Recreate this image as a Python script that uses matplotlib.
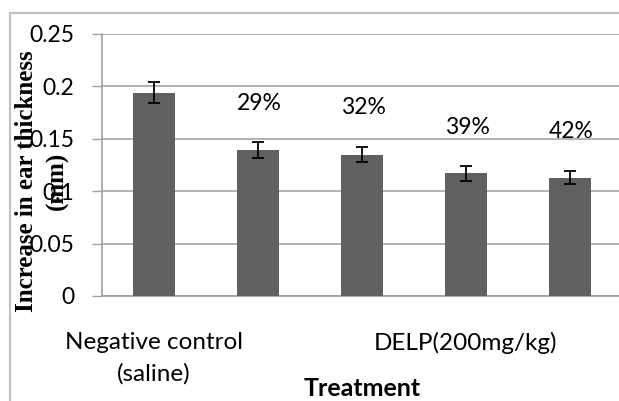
import matplotlib.pyplot as plt
from matplotlib.patches import Rectangle

# valores
grupos = ["Negative control\n(saline)", "", "", "DELP(200mg/kg)", ""]
grosor = [0.194, 0.139, 0.135, 0.117, 0.113]
error = [0.010, 0.0075, 0.0075, 0.0068, 0.0065]
inhibicion = ["", "29%", "32%", "39%", "42%"]
yticks = [0, 0.05, 0.1, 0.15, 0.2, 0.25]
ytick_labels = ["0", "0.05", "0.1", "0.15", "0.2", "0.25"]

W, H = 619, 401
fig = plt.figure(figsize=(W / 100, H / 100), dpi=100)

# marco exterior (recortado a la derecha y abajo)
fig.patches.append(Rectangle((10 / W, -0.1), 1.2, 1 - 13 / H + 0.1, transform=fig.transFigure,
                             fill=False, edgecolor="#c0c0c0", linewidth=1.6))

ax = fig.add_axes([102 / W, 1 - 296 / H, 520 / W, 262 / H])
x = list(range(len(grosor)))
ax.bar(x, grosor, width=0.4, color="#606060", zorder=3)
ax.errorbar(x, grosor, yerr=error, fmt="none", ecolor="black", elinewidth=1.3,
            capsize=4.5, capthick=1.3, zorder=4)

for i, (v, e, t) in enumerate(zip(grosor, error, inhibicion)):
    if t:
        ax.annotate(t, (i, v + e), xytext=(1, 28), textcoords="offset points",
                    ha="center", va="center", fontsize=16.5, family="Lato")

ax.set_xlim(-0.5, 4.5)
ax.set_ylim(0, 0.25)
ax.set_yticks(yticks)
ax.set_yticklabels(ytick_labels, fontsize=16.5, family="Lato")
ax.set_xticks(x)
ax.set_xticklabels(grupos, fontsize=17.5, family="Lato", linespacing=1.55)
ax.tick_params(axis="x", length=0, pad=26)
ax.tick_params(axis="y", length=7, width=1, color="#a0a0a0", pad=13)

ax.grid(axis="y", color="#a6a6a6", linewidth=1.2, zorder=0)
ax.set_axisbelow(True)
for s in ["top", "right"]:
    ax.spines[s].set_visible(False)
for s in ["left", "bottom"]:
    ax.spines[s].set_color("#a0a0a0")
    ax.spines[s].set_linewidth(1.2)

ax.set_xlabel("Treatment", fontsize=18, family="Lato", fontweight="bold", va="center")
ax.xaxis.set_label_coords(0.5, -(389 - 296) / 262)
ax.set_ylabel("Increase in ear thickness\n(mm)", fontsize=18, family="Liberation Serif",
              fontweight="bold", va="center", ha="center", linespacing=1.4)
ax.yaxis.set_label_coords((42 - 102) / 520, (296 - 181) / 262)

fig.savefig("out.png", dpi=100)
